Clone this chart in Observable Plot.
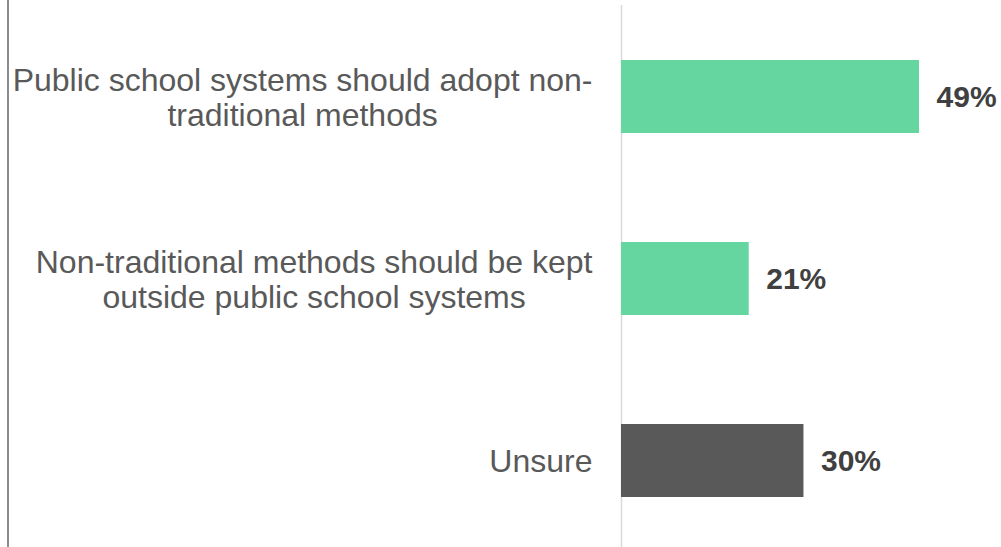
<!DOCTYPE html>
<html>
<head>
<meta charset="utf-8">
<script src="https://cdn.jsdelivr.net/npm/d3@7"></script>
<script src="https://cdn.jsdelivr.net/npm/@observablehq/plot@0.6"></script>
<style>
  html, body { margin: 0; padding: 0; background: #fff; }
  #wrap { position: relative; width: 1001px; height: 547px; overflow: hidden; }
  #edge { position: absolute; left: 7px; top: 0; width: 2px; height: 547px; background: #8c8c8c; }
</style>
</head>
<body>
<div id="wrap"><div id="edge"></div></div>
<script>
// Data
const categories = [
  "Public school systems should adopt non-traditional methods",
  "Non-traditional methods should be kept outside public school systems",
  "Unsure"
];
const labelLines = [
  ["Public school systems should adopt non-", "traditional methods"],
  ["Non-traditional methods should be kept", "outside public school systems"],
  ["Unsure"]
];
const values = [49, 21, 30];
const colors = ["#66d6a0", "#66d6a0", "#595959"];

const data = categories.map((c, i) => ({cat: c, value: values[i], color: colors[i], lines: labelLines[i].join("\n")}));

const labelFont = "'Liberation Sans', Arial, sans-serif";
const labelSize = 32;
const canvas = document.createElement("canvas");
const ctx = canvas.getContext("2d");
ctx.font = `${labelSize}px 'Liberation Sans', Arial, sans-serif`;
const blockWidth = labelLines.map(ls => d3.max(ls, l => ctx.measureText(l).width));
const labelGap = 29;

const labelMarks = data.map((d, i) => Plot.text([d], {
  x: () => 0,
  y: "cat",
  text: "lines",
  textAnchor: "middle",
  lineAnchor: "middle",
  lineHeight: 1.11,
  dx: -(labelGap + blockWidth[i] / 2),
  fontSize: labelSize,
  fontFamily: labelFont,
  fill: "#595959"
}));

const chart = Plot.plot({
  width: 1001,
  height: 547,
  marginLeft: 621,
  marginRight: 0,
  marginTop: 5,
  marginBottom: 0,
  style: {background: "transparent", overflow: "visible"},
  x: {domain: [0, 62.48], axis: null},
  y: {domain: categories, range: [59, 497], paddingInner: 0.6, paddingOuter: 0, axis: null},
  marks: [
    Plot.ruleX([0], {stroke: "#d9d9d9", strokeWidth: 1.5}),
    Plot.barX(data, {x: "value", y: "cat", fill: "color"}),
    Plot.text(data, {
      x: "value",
      y: "cat",
      text: d => d.value + "%",
      textAnchor: "start",
      dx: 17,
      fontSize: 30,
      fontWeight: "bold",
      fontFamily: labelFont,
      fill: "#404040"
    }),
    ...labelMarks
  ]
});
chart.style.position = "absolute";
chart.style.left = "0";
chart.style.top = "0";
document.getElementById("wrap").appendChild(chart);
</script>
</body>
</html>
